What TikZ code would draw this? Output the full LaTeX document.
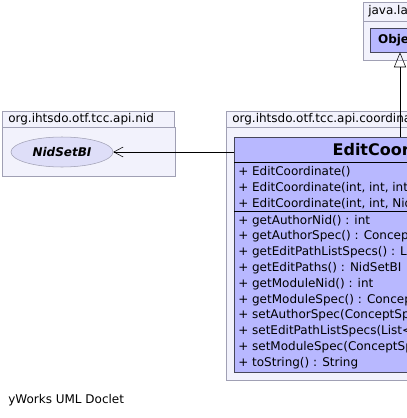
\documentclass[tikz,border=0pt]{standalone}
\usepackage{fontspec}
\setmainfont{DejaVu Sans}
\usetikzlibrary{positioning,shapes,arrows.meta}
\definecolor{pkgfill}{RGB}{242,242,252}
\definecolor{pkgline}{RGB}{160,160,180}
\definecolor{clsfill}{RGB}{184,184,255}
\definecolor{clsline}{RGB}{70,70,90}
\definecolor{ellfill}{RGB}{222,222,248}
\newcommand{\smallfont}{\fontsize{9}{11}\selectfont}

\begin{document}
\begin{tikzpicture}[x=0.75pt,y=-0.75pt,
  pkg/.style={draw=pkgline,fill=pkgfill},
  pkgname/.style={anchor=west,inner sep=0pt,font=\smallfont},
  cls/.style={draw=clsline,fill=clsfill,inner sep=0pt},
  member/.style={anchor=west,inner sep=0pt,font=\smallfont},
  inherit/.style={-{Triangle[open,length=11.25pt,width=9pt]}},
  depend/.style={-{Straight Barb[length=7pt,width=7.5pt]}}]
\useasboundingbox (0,0) rectangle (407,418);
\clip (0,0) rectangle (407,418);

% java.lang
\draw[pkg] (363,2) rectangle (480,21);
\node[pkgname] (langname) at (368,11.5) {java.lang};
\draw[pkg] (363,21) rectangle (480,60);
\node[cls,minimum width=45pt,minimum height=18pt,font=\bfseries\smallfont] (object) at (400,40) {Object};

% org.ihtsdo.otf.tcc.api.nid
\draw[pkg] (2,111) rectangle (174,127);
\node[pkgname] (nidname) at (8,119) {org.ihtsdo.otf.tcc.api.nid};
\draw[pkg] (2,127) rectangle (175,176);
\node[ellipse,draw=pkgline,fill=ellfill,minimum width=76.5pt,minimum height=22.5pt,
  inner sep=0pt,font=\bfseries\itshape\smallfont] (nidset) at (62,152) {NidSetBI};

% org.ihtsdo.otf.tcc.api.coordinate
\draw[pkg] (226,111) rectangle (600,127);
\node[pkgname] (coordname) at (232,119) {org.ihtsdo.otf.tcc.api.coordinate};
\draw[pkg] (226,127) rectangle (600,380);
\node[cls,minimum width=249pt,minimum height=176.25pt] (editcoord) at (400,254.5) {};
\node[font=\bfseries\fontsize{12}{14}\selectfont,inner sep=0pt] (title) at (400,150) {EditCoordinate};
\draw[black] (234,162.3) -- (566,162.3);
\draw[black] (234,211) -- (566,211);
\foreach \m [count=\i] in {{EditCoordinate()},
    {EditCoordinate(int, int, int.{}.{}.)},
    {EditCoordinate(int, int, NidSetBI)}}
  \node[member] (ctor\i) at (238,{171.7+15.8*(\i-1)}) {+ \m};
\foreach \m [count=\i] in {{getAuthorNid() : int},
    {getAuthorSpec() : ConceptSpec},
    {getEditPathListSpecs() : List<ConceptSpec>},
    {getEditPaths() : NidSetBI},
    {getModuleNid() : int},
    {getModuleSpec() : ConceptSpec},
    {setAuthorSpec(ConceptSpec) : void},
    {setEditPathListSpecs(List<ConceptSpec>) : void},
    {setModuleSpec(ConceptSpec) : void},
    {toString() : String}}
  \node[member] (meth\i) at (238,{220.7+15.8*(\i-1)}) {+ \m};

% connectors
\draw[inherit] (editcoord.north) -- (object.south);
\draw[depend] (editcoord.west |- nidset.east) -- (nidset.east);

\node[pkgname] (footer) at (8,400) {yWorks UML Doclet};
\end{tikzpicture}
\end{document}
